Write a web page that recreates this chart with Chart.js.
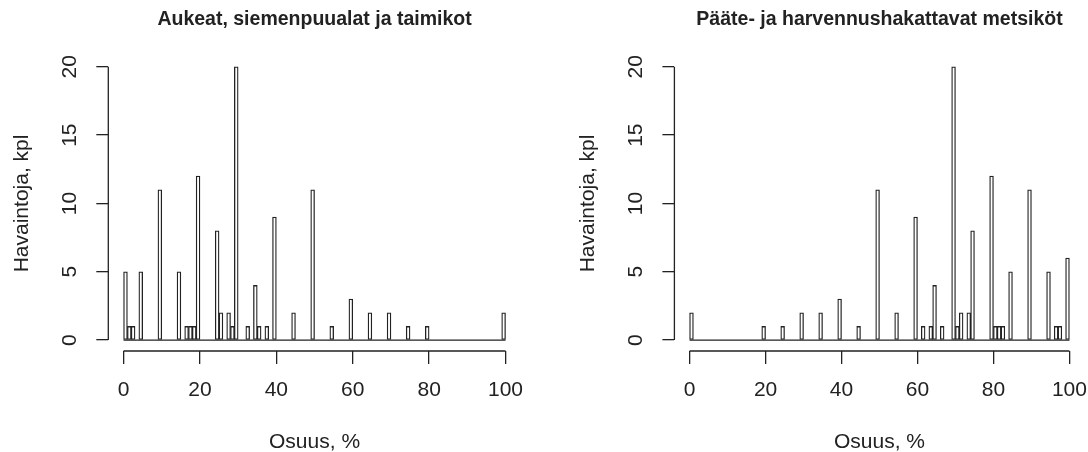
<!DOCTYPE html>
<html>
<head>
<meta charset="utf-8">
<script src="https://cdn.jsdelivr.net/npm/chart.js@4.4.1/dist/chart.umd.min.js"></script>
<style>
  html, body { margin: 0; padding: 0; background: #fff; }
  .wrap { position: relative; width: 1088px; height: 452px; }
  canvas { position: absolute; top: 0; }
</style>
</head>
<body>
<div class="wrap">
  <canvas id="histAukeat" width="544" height="452" style="left:0"></canvas>
  <canvas id="histMetsikot" width="544" height="452" style="left:544px"></canvas>
</div>
<script>
// tick labels
const xTicks = [0, 20, 40, 60, 80, 100];
const yTicks = [0, 5, 10, 15, 20];

// bins are 1 % wide, (b-1, b]; only non-empty bins listed
const aukeatBins   = [1, 2, 3, 5, 10, 15, 17, 18, 19, 20, 25, 26, 28, 29, 30, 33, 35, 36, 38, 40, 45, 50, 55, 60, 65, 70, 75, 80, 100];
const aukeatCounts = [5, 1, 1, 5, 11, 5, 1, 1, 1, 12, 8, 2, 2, 1, 20, 1, 4, 1, 1, 9, 2, 11, 1, 3, 2, 2, 1, 1, 2];

const metsikotBins   = [1, 20, 25, 30, 35, 40, 45, 50, 55, 60, 62, 64, 65, 67, 70, 71, 72, 74, 75, 80, 81, 82, 83, 85, 90, 95, 97, 98, 100];
const metsikotCounts = [2, 1, 1, 2, 2, 3, 1, 11, 2, 9, 1, 1, 4, 1, 20, 1, 2, 2, 8, 12, 1, 1, 1, 5, 11, 5, 1, 1, 6];

const FONT = "'Liberation Sans', Arial, sans-serif";
const INK = '#222222';

// every bin 1..100, empty ones as 0
function fullSeries(bins, counts) {
    const out = [];
    for (let b = 1; b <= 100; b++) {
        const i = bins.indexOf(b);
        out.push({ x: b - 0.5, y: i >= 0 ? counts[i] : 0 });
    }
    return out;
}

// R-like axes: line only across the tick range, rotated y labels
const rAxes = {
    id: 'rAxes',
    beforeDatasetsDraw(chart) {
        const { ctx, scales: { x, y } } = chart;
        ctx.save();
        ctx.strokeStyle = INK;
        ctx.lineWidth = 1.3;
        ctx.beginPath();
        ctx.moveTo(x.getPixelForValue(xTicks[0]), y.getPixelForValue(0));
        ctx.lineTo(x.getPixelForValue(xTicks[xTicks.length - 1]), y.getPixelForValue(0));
        ctx.stroke();
        ctx.restore();
    },
    afterDraw(chart) {
        const { ctx, chartArea, scales: { x, y } } = chart;
        ctx.save();
        ctx.strokeStyle = INK;
        ctx.lineWidth = 1.3;
        ctx.beginPath();
        ctx.moveTo(x.getPixelForValue(xTicks[0]), chartArea.bottom);
        ctx.lineTo(x.getPixelForValue(xTicks[xTicks.length - 1]), chartArea.bottom);
        ctx.moveTo(chartArea.left, y.getPixelForValue(yTicks[0]));
        ctx.lineTo(chartArea.left, y.getPixelForValue(yTicks[yTicks.length - 1]));
        ctx.stroke();

        ctx.fillStyle = INK;
        ctx.font = '21px ' + FONT;
        ctx.textAlign = 'center';
        ctx.textBaseline = 'middle';
        x.ticks.forEach(t => {
            ctx.fillText(String(t.value), x.getPixelForValue(t.value), chartArea.bottom + 39);
        });
        y.ticks.forEach(t => {
            ctx.save();
            ctx.translate(chartArea.left - 38, y.getPixelForValue(t.value));
            ctx.rotate(-Math.PI / 2);
            ctx.fillText(String(t.value), 0, 0);
            ctx.restore();
        });
        ctx.restore();
    }
};

function makeHist(id, title, bins, counts, box) {
    return new Chart(document.getElementById(id), {
        type: 'bar',
        data: {
            datasets: [{
                data: fullSeries(bins, counts),
                backgroundColor: '#ffffff',
                borderColor: INK,
                borderWidth: 1.3,
                borderSkipped: false,
                barPercentage: 1,
                categoryPercentage: 1
            }]
        },
        options: {
            responsive: false,
            animation: false,
            layout: { padding: { left: 0, right: box.right, top: 0, bottom: 0 } },
            plugins: {
                legend: { display: false },
                tooltip: { enabled: false },
                title: {
                    display: true,
                    text: title,
                    fullSize: false,
                    color: INK,
                    font: { family: FONT, size: 19.5, weight: 'bold', lineHeight: 1.2 },
                    padding: { top: 8.3, bottom: 24.2 }
                }
            },
            scales: {
                x: {
                    type: 'linear',
                    min: -4,
                    max: 104,
                    offset: false,
                    afterFit: s => { s.height = 101; },
                    afterBuildTicks: s => { s.ticks = xTicks.map(v => ({ value: v })); },
                    ticks: { display: false },
                    grid: { display: true, drawOnChartArea: false, drawTicks: true, tickLength: 13, offset: false, color: INK, lineWidth: 1.3 },
                    border: { display: false },
                    title: {
                        display: true,
                        text: 'Osuus, %',
                        color: INK,
                        font: { family: FONT, size: 21, lineHeight: 1 },
                        padding: { top: 0, bottom: -1 }
                    }
                },
                y: {
                    min: -0.8,
                    max: 20.8,
                    afterFit: s => { s.width = box.left; },
                    afterBuildTicks: s => { s.ticks = yTicks.map(v => ({ value: v })); },
                    ticks: { display: false },
                    grid: { display: true, drawOnChartArea: false, drawTicks: true, tickLength: 12, color: INK, lineWidth: 1.3 },
                    border: { display: false },
                    title: {
                        display: true,
                        text: 'Havaintoja, kpl',
                        color: INK,
                        font: { family: FONT, size: 21, lineHeight: 1 },
                        padding: { top: box.yTitle - 10.5, bottom: 0 }
                    }
                }
            }
        },
        plugins: [rAxes]
    });
}

makeHist('histAukeat', 'Aukeat, siemenpuualat ja taimikot', aukeatBins, aukeatCounts,
    { left: 108.3, right: 23.2, yTitle: 22 });
makeHist('histMetsikot', 'Pääte- ja harvennushakattavat metsiköt', metsikotBins, metsikotCounts,
    { left: 130.4, right: 3.4, yTitle: 44 });
</script>
</body>
</html>
